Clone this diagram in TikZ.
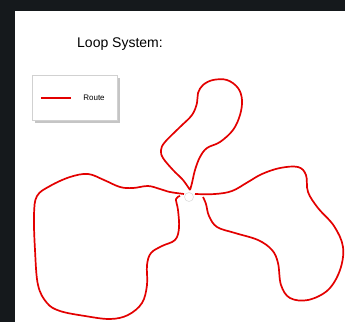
\documentclass[tikz,border=0pt]{standalone}
\usepackage{fontspec}
\setmainfont{Liberation Sans}
\usepackage{tikz}
\usetikzlibrary{positioning,shadows,calc}
\definecolor{frame}{HTML}{15191C}
\definecolor{route}{HTML}{E30000}
\definecolor{hubline}{HTML}{DDDDDD}

\begin{document}
\begin{tikzpicture}[x=1pt,y=-1pt,
  loop/.style={draw=route,line width=1.7pt,line join=round},
  hub/.style={circle,fill=white,draw=hubline,line width=0.6pt,
    minimum size=9pt,inner sep=0pt},
  legendbox/.style={rectangle,fill=white,draw=black!18,line width=0.4pt,
    minimum width=85pt,minimum height=45pt,
    drop shadow={shadow xshift=3pt,shadow yshift=-3pt,opacity=0.45}},
]
  \useasboundingbox (0,0) rectangle (345,322);
  \fill[frame] (0,0) rectangle (345,322);
  \fill[white] (15,11) rectangle (345,322);
  \node[font=\fontsize{14}{16}\selectfont] (title) at (120,44) {Loop System:};
  % legend
  \node[legendbox] (legend) at (74.5,97.5) {};
  \coordinate[right=9pt of legend.west] (ls);
  \coordinate[right=30pt of ls] (le);
  \draw[loop,line width=2pt] (ls)--(le);
  \node[font=\fontsize{8}{9}\selectfont,right=9pt of le] (lt) {Route};
  % loops
  \draw[loop] plot[smooth,tension=0.6] coordinates {(190,190) (183,180)
    (173,170) (163,158) (161,150) (165,142) (180,127) (192,115) (197,103)
    (198,93) (203,85) (213,80) (227,80) (238,88) (242,100) (240,115) (233,130)
    (220,142) (207,148) (200,157) (195,170) (192,183) (190,190)};
  \draw[loop] plot[smooth,tension=0.6] coordinates {(184,194) (170,192)
    (160,189) (148,186) (133,188) (120,187) (104,180) (88,174) (70,177)
    (50,186) (37,196) (34,215) (35,250) (38,285) (47,303) (60,311) (85,316)
    (110,319) (128,315) (142,303) (147,285) (147,265) (151,253) (162,246)
    (175,240) (179,228) (178,210) (176,199) (180,196)};
  \draw[loop] plot[smooth,tension=0.6] coordinates {(195,194) (215,194)
    (232,191) (248,182) (262,174) (280,168) (298,167) (306,175) (308,192)
    (318,208) (334,226) (343,247) (340,270) (328,290) (308,300) (290,298)
    (281,285) (278,263) (272,250) (258,240) (235,233) (217,227) (209,216)
    (206,204) (203,197)};
  \node[hub] (centre) at (189,197) {};
\end{tikzpicture}
\end{document}
